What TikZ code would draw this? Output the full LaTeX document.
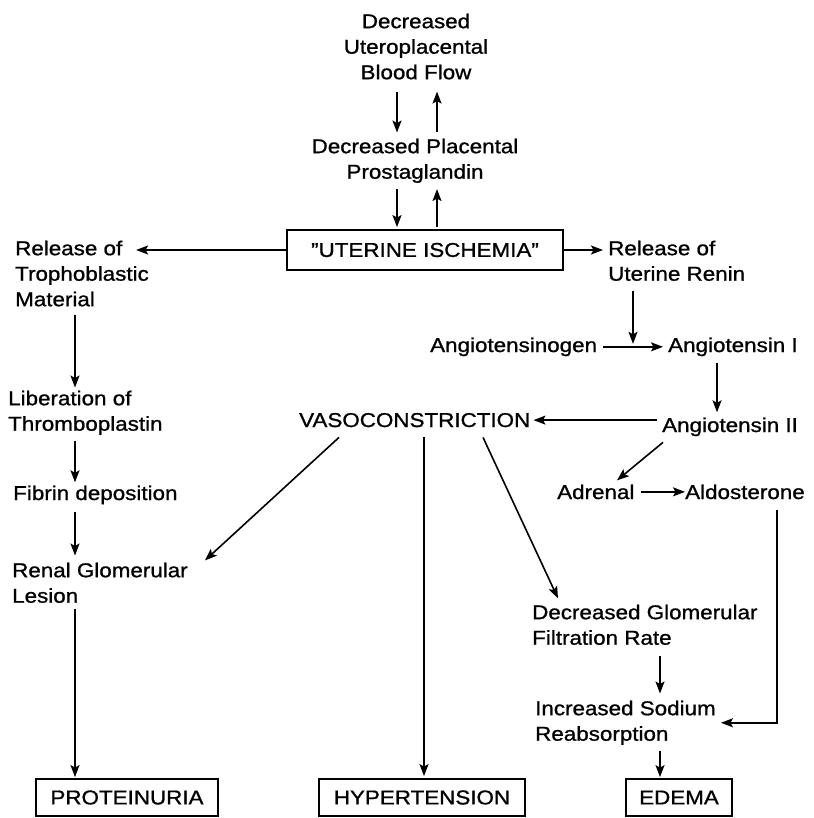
\documentclass[tikz,border=0pt]{standalone}
\usepackage{fontspec}
\setmainfont{Liberation Sans}[FakeStretch=1.12, FakeBold=1]
\usetikzlibrary{arrows.meta}
\tikzset{
  tx/.style={inner sep=0pt, align=left, font=\fontsize{20}{25.5}\selectfont},
  ob/.style={draw, line width=1.8pt, inner sep=0pt, font=\fontsize{20}{25.5}\selectfont},
  ar/.style={-{Stealth[length=12pt, width=9pt, inset=2.5pt]}, line width=1.6pt,
             shorten <=6pt, shorten >=4pt},
}

\begin{document}
\begin{tikzpicture}[x=1pt, y=-1pt]
  \useasboundingbox (0,0) rectangle (813,818);
  % columns of the vertical arrows
  \coordinate (xa) at (397,0);
  \coordinate (xb) at (437,0);
  \coordinate (xl) at (75,0);
  \coordinate (xr) at (633,0);
  \coordinate (xi) at (717,0);
  \coordinate (xh) at (424,0);
  \coordinate (xd) at (660,0);
  \coordinate (xs) at (777,0);

  % placenta loop
  \node[tx, align=center, anchor=north] (dub) at (416,13.5) {Decreased\\Uteroplacental\\Blood Flow};
  \node[tx, align=center, anchor=north] (dpp) at (415,138.5) {Decreased Placental\\Prostaglandin};
  \node[ob, minimum width=276pt, minimum height=40pt] (ui) at (425,250) {\symbol{34}UTERINE ISCHEMIA\symbol{34}};

  % left branch
  \node[tx, anchor=north west] (tro) at (15,240.5) {Release of\\Trophoblastic\\Material};
  \node[tx, anchor=north west] (lib) at (8,390.5) {Liberation of\\Thromboplastin};
  \node[tx, anchor=base west] (fib) at (13,500) {Fibrin deposition};
  \node[tx, anchor=north west] (rgl) at (12,562.5) {Renal Glomerular\\Lesion};

  % renin branch
  \node[tx, anchor=north west] (urr) at (608,240.5) {Release of\\Uterine Renin};
  \node[tx, anchor=base west] (agn) at (430,352) {Angiotensinogen};
  \node[tx, anchor=base west] (ag1) at (668,352) {Angiotensin I};
  \node[tx, anchor=base west] (ag2) at (662,432) {Angiotensin II};
  \node[tx, anchor=base west] (vas) at (299,427) {VASOCONSTRICTION};
  \node[tx, anchor=base west] (adr) at (557,499) {Adrenal};
  \node[tx, anchor=base west] (ald) at (685,499) {Aldosterone};
  \node[tx, anchor=north west] (dgf) at (532,604.5) {Decreased Glomerular\\Filtration Rate};
  \node[tx, anchor=north west] (isr) at (535,700.5) {Increased Sodium\\Reabsorption};

  % outcomes
  \node[ob, minimum width=182pt, minimum height=37pt] (pro) at (127,797.5) {PROTEINURIA};
  \node[ob, minimum width=206pt, minimum height=37pt] (hyp) at (422,797.5) {HYPERTENSION};
  \node[ob, minimum width=106pt, minimum height=37pt] (ede) at (679,797.5) {EDEMA};

  \draw[ar, shorten <=12pt, shorten >=6pt] (dub.south -| xa) -- (dpp.north -| xa);
  \draw[ar, shorten <=6pt, shorten >=12pt] (dpp.north -| xb) -- (dub.south -| xb);
  \draw[ar, shorten <=6pt, shorten >=2pt] (dpp.south -| xa) -- (ui.north -| xa);
  \draw[ar, shorten <=2pt, shorten >=6pt] (ui.north -| xb) -- (dpp.south -| xb);

  \draw[ar, shorten <=0pt, shorten >=0pt] (ui.west) -- +(-150,0);
  \draw[ar, shorten <=8pt, shorten >=3pt] (tro.south -| xl) -- (lib.north -| xl);
  \draw[ar, shorten >=3pt] (lib.south -| xl) -- (fib.north -| xl);
  \draw[ar, shorten <=8pt, shorten >=7pt] (fib.south -| xl) -- (rgl.north -| xl);
  \draw[ar, shorten >=1pt] (rgl.south -| xl) -- (pro.north -| xl);

  \draw[ar, shorten <=0pt, shorten >=5pt] (ui.east) -- (urr.west |- ui.east);
  \draw[ar, shorten <=10pt, shorten >=3pt] (urr.south -| xr) -- (agn.east -| xr);
  \draw[ar, shorten >=5pt] (agn.east) -- (agn.east -| ag1.west);
  \draw[ar, shorten <=7pt, shorten >=5pt] (ag1.south -| xi) -- (ag2.north -| xi);
  \draw[ar, shorten <=5pt, shorten >=3pt] (vas.east -| ag2.west) -- (vas.east);
  \draw[ar, shorten <=0pt, shorten >=0pt] ([xshift=1pt, yshift=-6pt]ag2.south west) -- ++(-46,38);
  \draw[ar, shorten >=0pt] (adr.east) -- (ald.west);
  \draw[ar, shorten <=11pt, shorten >=5pt] (ald.south -| xs) |- (isr.east);

  \draw[ar, shorten <=0pt, shorten >=0pt] ([xshift=40pt, yshift=-10pt]vas.south west) -- ++(-134,123);
  \draw[ar, shorten <=10pt, shorten >=2pt] (vas.south -| xh) -- (hyp.north -| xh);
  \draw[ar, shorten <=0pt, shorten >=0pt] ([xshift=184pt, yshift=-10pt]vas.south west) -- ++(75,161);

  \draw[ar, shorten <=11pt, shorten >=7pt] (dgf.south -| xd) -- (isr.north -| xd);
  \draw[ar, shorten >=1pt] (isr.south -| xd) -- (ede.north -| xd);
\end{tikzpicture}
\end{document}
